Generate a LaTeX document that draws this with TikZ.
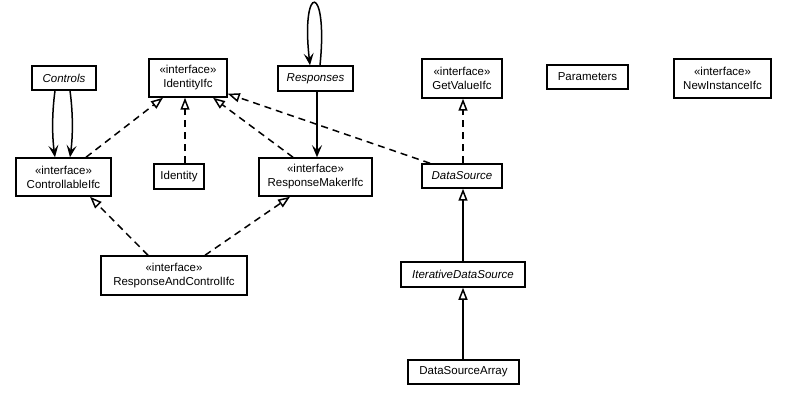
\documentclass[tikz,border=0pt]{standalone}
\usepackage{fontspec}
\setmainfont{Liberation Sans}
\usetikzlibrary{arrows.meta,calc}
\begin{document}
\begin{tikzpicture}[x=1pt,y=-1pt,
  umlbox/.style={draw, line width=1.5pt, inner sep=0pt, align=center, font=\fontsize{11.5}{14}\selectfont},
  realize/.style={line width=1.5pt, dash pattern=on 7pt off 5pt, -{Triangle[open,length=12pt,width=9pt]}},
  generalize/.style={line width=1.5pt, -{Triangle[open,length=12pt,width=9pt]}},
  assoc/.style={line width=1.5pt, -{Stealth[length=12pt,width=10pt,inset=5pt]}}]
\fill[white] (0,0) rectangle (789,403);
\useasboundingbox (0,0) rectangle (789,403);
% nodes
\node[umlbox, minimum width=64pt, minimum height=24pt] (controls) at (64,78) {\itshape Controls};
\node[umlbox, minimum width=78pt, minimum height=38pt] (idifc) at (188,78) {«interface»\\IdentityIfc};
\node[umlbox, minimum width=75pt, minimum height=25pt] (resp) at (315.5,78.5) {\itshape Responses};
\node[umlbox, minimum width=80pt, minimum height=39pt] (gv) at (462,78.5) {«interface»\\GetValueIfc};
\node[umlbox, minimum width=81pt, minimum height=24pt] (params) at (587.5,77) {Parameters};
\node[umlbox, minimum width=97pt, minimum height=39pt] (ni) at (722.5,78.5) {«interface»\\NewInstanceIfc};
\node[umlbox, minimum width=95pt, minimum height=38pt] (ctrlifc) at (63.5,177) {«interface»\\ControllableIfc};
\node[umlbox, minimum width=50pt, minimum height=25pt] (identity) at (179,176.5) {Identity};
\node[umlbox, minimum width=113pt, minimum height=38pt] (rmifc) at (315.5,177) {«interface»\\ResponseMakerIfc};
\node[umlbox, minimum width=80pt, minimum height=24pt] (ds) at (462,176) {\itshape DataSource};
\node[umlbox, minimum width=146pt, minimum height=39pt] (racifc) at (174,275.5) {«interface»\\ResponseAndControlIfc};
\node[umlbox, minimum width=124pt, minimum height=25pt] (ids) at (463,274.5) {\itshape IterativeDataSource};
\node[umlbox, minimum width=111pt, minimum height=24pt] (dsa) at (463.5,372) {DataSourceArray};
% realizations
\draw[realize] ($(ctrlifc.north)+(22.5,0)$) -- ($(idifc.south)+(-25,0)$);
\draw[realize] ($(identity.north)+(6,0)$) -- ($(idifc.south)+(-3,0)$);
\draw[realize] ($(rmifc.north)+(-22.5,0)$) -- ($(idifc.south)+(25,0)$);
\draw[realize] ($(ds.north)+(-32,0)$) -- ($(idifc.south east)+(0,-4)$);
\draw[realize] ($(ds.north)+(1,0)$) -- ($(gv.south)+(1,0)$);
\draw[realize] ($(racifc.north)+(-26,0)$) -- ($(ctrlifc.south)+(26.5,0)$);
\draw[realize] ($(racifc.north)+(31,0)$) -- ($(rmifc.south)+(-25.5,0)$);
% generalizations
\draw[generalize] (ids.north) -- ($(ds.south)+(1,0)$);
\draw[generalize] ($(dsa.north)+(-0.5,0)$) -- (ids.south);
% associations
\draw[assoc] ($(resp.south)+(1.5,0)$) -- ($(rmifc.north)+(1.5,0)$);
\draw[assoc] ($(controls.south)+(-9,0)$) .. controls ($(controls.south)+(-12,22)$) and ($(ctrlifc.north)+(-11.5,-22)$) .. ($(ctrlifc.north)+(-8.5,0)$);
\draw[assoc] ($(controls.south)+(6,0)$) .. controls ($(controls.south)+(9,22)$) and ($(ctrlifc.north)+(9.5,-22)$) .. ($(ctrlifc.north)+(6.5,0)$);
\draw[assoc] ($(resp.north)+(4.5,0)$) .. controls ($(resp.north)+(13,-83)$) and ($(resp.north)+(-15,-83)$) .. ($(resp.north)+(-5.5,0)$);
\end{tikzpicture}
\end{document}
